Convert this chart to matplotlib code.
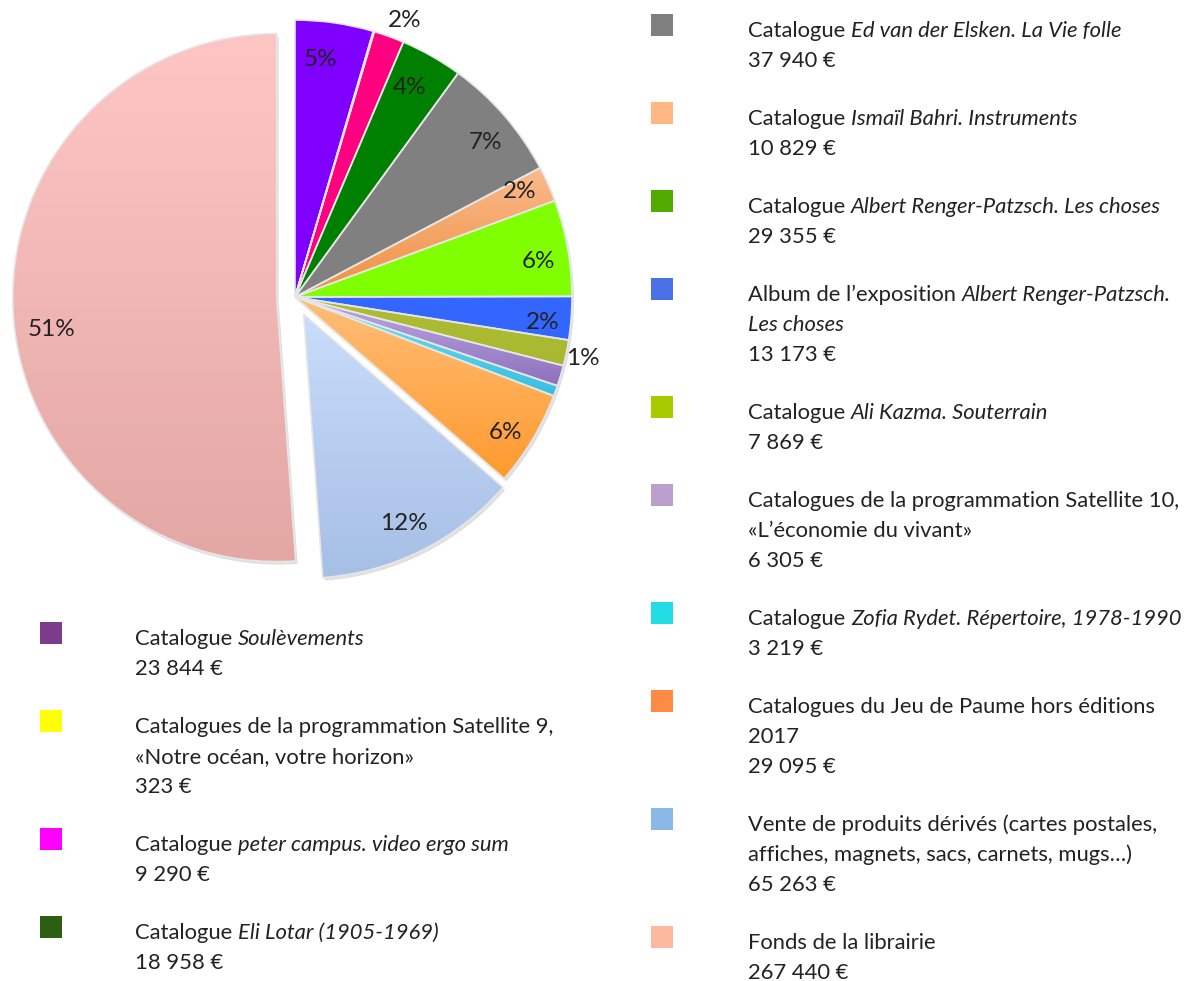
import numpy as np
import matplotlib
matplotlib.use("Agg")
import matplotlib.pyplot as plt
from matplotlib.patches import Wedge, Rectangle
from matplotlib.colors import to_rgb

# ---------------- data ----------------
values = [23844, 323, 9290, 18958, 37940, 10829, 29355, 13173, 7869, 6305, 3219, 29095, 65263, 267440]
pct_labels = ['5%', '', '2%', '4%', '7%', '2%', '6%', '2%', '1%', '', '', '6%', '12%', '51%']
value_labels = ['23 844 €', '323 €', '9 290 €', '18 958 €', '37 940 €', '10 829 €', '29 355 €',
                '13 173 €', '7 869 €', '6 305 €', '3 219 €', '29 095 €', '65 263 €', '267 440 €']
# label lines: list of lines, each a list of (text, italic)
names = [
    [[("Catalogue", False), ("Soulèvements", True)]],
    [[("Catalogues de la programmation Satellite 9,", False)], [("«Notre océan, votre horizon»", False)]],
    [[("Catalogue", False), ("peter campus. video ergo sum", True)]],
    [[("Catalogue", False), ("Eli Lotar (1905-1969)", True)]],
    [[("Catalogue", False), ("Ed van der Elsken. La Vie folle", True)]],
    [[("Catalogue", False), ("Ismaïl Bahri. Instruments", True)]],
    [[("Catalogue", False), ("Albert Renger-Patzsch. Les choses", True)]],
    [[("Album de l’exposition", False), ("Albert Renger-Patzsch.", True)], [("Les choses", True)]],
    [[("Catalogue", False), ("Ali Kazma. Souterrain", True)]],
    [[("Catalogues de la programmation Satellite 10,", False)], [("«L’économie du vivant»", False)]],
    [[("Catalogue", False), ("Zofia Rydet. Répertoire, 1978-1990", True)]],
    [[("Catalogues du Jeu de Paume hors éditions", False)], [("2017", False)]],
    [[("Vente de produits dérivés (cartes postales,", False)], [("affiches, magnets, sacs, carnets, mugs…)", False)]],
    [[("Fonds de la librairie", False)]],
]
pie_top = ['#7f00ff', '#e8d840', '#ff0080', '#008000', '#808080', '#fbbb8e', '#80ff00',
           '#3366ff', '#aebd33', '#bca9e3', '#72e2f2', '#ffbe78', '#c9dcfb', '#fdc6c5']
pie_bot = ['#7f00ff', '#e8d840', '#ff0080', '#008000', '#808080', '#ee9040', '#80ff00',
           '#3366ff', '#a8b830', '#8e70bc', '#38bde0', '#ff9a2e', '#a6bfe5', '#e3a7a4']
leg_colors = ['#7d3b8b', '#ffff00', '#ff00ff', '#2d5f12', '#808080', '#ffb884', '#52ab00',
              '#4a72e6', '#a6cc00', '#bb9fcc', '#22dde6', '#ff8a44', '#8cb8e8', '#ffb8a0']
explode_frac = [0, 0, 0, 0, 0, 0, 0, 0, 0, 0, 0, 0, 0.07, 0.066]
label_r = [0.87, 0.0, 1.08, 0.87, 0.89, 0.90, 0.89, 0.90, 1.06, 0, 0, 0.90, 0.87, 0.86]
label_dang = [2.2, 0, -1.7, 1.1, -1.5, 1.4, -1.6, -1.1, 0, 0, 0, -1.4, -0.8, 5.6]
left_items = [0, 1, 2, 3]
right_items = [4, 5, 6, 7, 8, 9, 10, 11, 12, 13]

# ---------------- figure ----------------
W, H = 1194, 981
fig = plt.figure(figsize=(W / 100, H / 100), dpi=100)
ax = fig.add_axes([0, 0, 1, 1])
FONT = ['Lato', 'DejaVu Sans']
TXT = '#222222'
WEIGHT = 'normal'

cx, cy, R = 295, H - 297, 277
R_small = 264

wedges, _ = ax.pie(values, startangle=90, counterclock=False, center=(cx, cy), radius=R,
                   explode=[e * R for e in explode_frac], colors=pie_top,
                   wedgeprops=dict(linewidth=0))
ax.set_xlim(0, W)
ax.set_ylim(0, H)
ax.set_aspect('equal')
ax.axis('off')

for i, w in enumerate(wedges):
    if explode_frac[i] > 0:
        w.set_radius(R_small)
    w.set_zorder(1)
    c = w.center
    sh = Wedge((c[0] + 2, c[1] - 3), w.r, w.theta1, w.theta2, facecolor='#d9d9d9',
               edgecolor='none', zorder=0.5, alpha=0.8)
    ax.add_patch(sh)
    if pie_top[i] != pie_bot[i]:
        ext = w.get_path().get_extents(w.get_patch_transform())
        x0, y0, x1, y1 = ext.x0, ext.y0, ext.x1, ext.y1
        t = np.linspace(0, 1, 256)[:, None]
        ct, cb = np.array(to_rgb(pie_top[i])), np.array(to_rgb(pie_bot[i]))
        arr = (ct[None, None, :] * (1 - t[:, :, None]) + cb[None, None, :] * t[:, :, None])
        im = ax.imshow(arr, extent=(x0, x1, y0, y1), origin='upper', aspect='auto',
                       interpolation='bilinear', zorder=1.2)
        im.set_clip_path(w)
    ax.add_patch(Wedge(w.center, w.r, w.theta1, w.theta2, facecolor='none',
                       edgecolor='#e6e6e6', linewidth=1.2, zorder=2))

ax.set_xlim(0, W)
ax.set_ylim(0, H)

for i, w in enumerate(wedges):
    if not pct_labels[i]:
        continue
    ang = np.deg2rad((w.theta1 + w.theta2) / 2 + label_dang[i])
    rr = w.r * label_r[i]
    x = w.center[0] + rr * np.cos(ang)
    y = w.center[1] + rr * np.sin(ang)
    ax.text(x, y, pct_labels[i], ha='center', va='center_baseline', fontsize=17.5,
            family=FONT, weight=WEIGHT, color=TXT, zorder=5)

# ---------------- legend ----------------
fig.canvas.draw()
renderer = fig.canvas.get_renderer()
LSIZE = 15.8


def text_w(s, italic=False):
    t = ax.text(0, 0, s, fontsize=LSIZE, family=FONT, weight=WEIGHT,
                style='italic' if italic else 'normal')
    wd = t.get_window_extent(renderer).width
    t.remove()
    return wd


space_w = text_w("x x") - text_w("xx")


def rich_line(x, py, parts):
    cur = x
    for k, (s, it) in enumerate(parts):
        if k > 0:
            cur += space_w
        t = ax.text(cur, H - py, s, fontsize=LSIZE, family=FONT, color=TXT, weight=WEIGHT,
                    style='italic' if it else 'normal', ha='left', va='baseline')
        cur += t.get_window_extent(renderer).width


LINE = 30
GAP = 58
MS = 22


def column(items, mx, tx, y_start):
    y = y_start
    for idx in items:
        ax.add_patch(Rectangle((mx, H - (y - 16) - MS), MS, MS, facecolor=leg_colors[idx],
                               edgecolor='none'))
        lines = names[idx] + [[(value_labels[idx], False)]]
        for j, ln in enumerate(lines):
            rich_line(tx, y + j * LINE + 7, ln)
        y += (len(lines) - 1) * LINE + GAP


column(left_items, 40, 135, 638)
column(right_items, 651, 748, 30)

fig.savefig('out.png', dpi=100, facecolor='white')
